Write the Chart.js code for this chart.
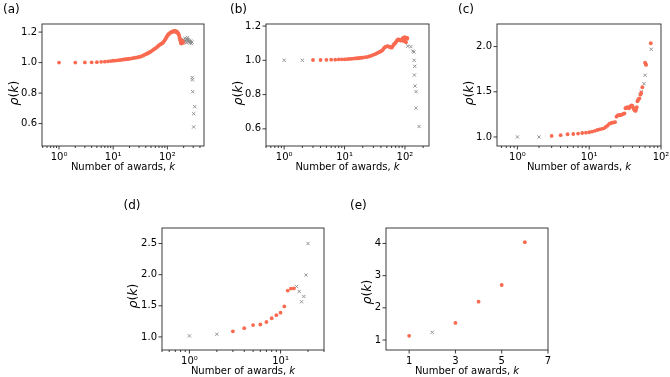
<!DOCTYPE html>
<html>
<head>
<meta charset="utf-8">
<script src="https://cdn.jsdelivr.net/npm/chart.js@4.4.1/dist/chart.umd.min.js"></script>
<style>
  html, body { margin: 0; padding: 0; background: #fff; }
  body { width: 670px; height: 377px; position: relative; overflow: hidden; }
  canvas { position: absolute; }
</style>
</head>
<body>
<canvas id="panelA"></canvas>
<canvas id="panelB"></canvas>
<canvas id="panelC"></canvas>
<canvas id="panelD"></canvas>
<canvas id="panelE"></canvas>
<script>
// ---- data ----
// (a)
const aRedK = [1, 2, 3, 4, 5, 6, 7, 8, 9, 10, 11, 12, 13, 14, 15, 16, 17, 18, 19, 20,
  22, 24, 26, 28, 30, 32, 34, 36, 38, 40, 42, 44, 46, 48, 50, 53, 56, 59, 62, 65, 68, 71, 74, 77, 80,
  83, 86, 89, 92, 95, 98, 101, 104, 107, 110, 113, 116, 119, 122, 125, 128, 131, 134, 137, 140, 143,
  146, 149, 152, 155, 158, 161, 164, 167, 170, 172, 174, 176, 178, 180, 182, 184, 186, 188, 190, 192, 195];
const aRedRho = [1.000, 1.000, 1.001, 1.002, 1.003, 1.005, 1.006, 1.008, 1.010, 1.012, 1.013, 1.015, 1.016, 1.018, 1.019, 1.021, 1.022, 1.023, 1.024, 1.025,
  1.027, 1.030, 1.032, 1.034, 1.037, 1.039, 1.043, 1.047, 1.051, 1.055, 1.058, 1.062, 1.066, 1.070, 1.074, 1.080, 1.086, 1.091, 1.097, 1.103, 1.109, 1.115, 1.120, 1.123, 1.126,
  1.130, 1.138, 1.146, 1.154, 1.162, 1.170, 1.178, 1.184, 1.188, 1.192, 1.195, 1.198, 1.200, 1.202, 1.204, 1.205, 1.203, 1.206, 1.205, 1.207, 1.203,
  1.205, 1.199, 1.202, 1.196, 1.192, 1.188, 1.180, 1.170, 1.160, 1.152, 1.145, 1.138, 1.130, 1.125, 1.133, 1.140, 1.128, 1.136, 1.142, 1.135, 1.130];
const aGreyK = [200, 205, 210, 215, 220, 225, 230, 235, 240, 245, 250, 255, 262, 270, 278, 285, 288, 290, 294, 320, 307, 306];
const aGreyRho = [1.150, 1.135, 1.160, 1.140, 1.145, 1.130, 1.155, 1.165, 1.140, 1.150, 1.135, 1.145, 1.130, 1.140, 1.125, 1.135, 0.902, 0.887, 0.809, 0.711, 0.665, 0.578];

// (b)
const bRedK = [3, 4, 5, 6, 7, 8, 9, 10, 11, 12, 13, 14, 15, 16, 17, 18, 19, 20, 22, 24, 26, 28, 30, 32, 34, 36, 38, 40,
  42, 44, 46, 48, 50, 52, 54, 56, 58, 60, 62, 64, 66, 68, 70, 72, 74, 76, 78, 80, 82, 84, 86, 88, 90, 92, 94, 96, 98,
  100, 102, 104, 106, 108, 110];
const bRedRho = [1.002, 1.002, 1.003, 1.004, 1.004, 1.005, 1.006, 1.006, 1.007, 1.008, 1.009, 1.010, 1.011, 1.012, 1.012, 1.014, 1.015, 1.016, 1.018, 1.020, 1.024, 1.028, 1.032, 1.036, 1.041, 1.045, 1.049, 1.053,
  1.058, 1.066, 1.076, 1.079, 1.082, 1.083, 1.080, 1.078, 1.076, 1.074, 1.079, 1.088, 1.095, 1.099, 1.104, 1.110, 1.116, 1.120, 1.122, 1.121, 1.118, 1.115, 1.116, 1.119, 1.124, 1.130, 1.128, 1.112, 1.135,
  1.120, 1.128, 1.105, 1.133, 1.125, 1.130];
const bGreyK = [1, 2, 111, 125, 135, 141, 142, 145, 143, 147, 153, 152, 171];
const bGreyRho = [1.000, 1.000, 1.083, 1.080, 1.054, 1.048, 1.000, 0.965, 0.914, 0.850, 0.817, 0.721, 0.614];

// (c)
const cRedK = [3, 4, 5, 6, 7, 8, 9, 10, 11, 12, 13, 14, 15, 16, 17, 18, 19, 20, 21, 22, 23, 24, 25, 26, 27, 28, 29, 30,
  31, 32, 33, 34, 35, 36, 37, 38, 39, 40, 41, 42, 43, 44, 45, 46, 47, 48, 49, 50, 52, 53, 55, 60, 61, 62, 72];
const cRedRho = [1.011, 1.020, 1.030, 1.033, 1.037, 1.044, 1.048, 1.052, 1.060, 1.068, 1.077, 1.085, 1.090, 1.096, 1.110, 1.125, 1.145, 1.152, 1.158, 1.162, 1.165, 1.225, 1.238, 1.243, 1.240, 1.245, 1.250, 1.255,
  1.262, 1.318, 1.325, 1.330, 1.322, 1.317, 1.335, 1.343, 1.350, 1.345, 1.325, 1.307, 1.295, 1.288, 1.300, 1.330, 1.395, 1.410, 1.420, 1.428, 1.470, 1.490, 1.550, 1.823, 1.810, 1.797, 2.037];
const cGreyK = [1, 2, 51, 53, 58, 60, 73];
const cGreyRho = [1.000, 1.000, 1.470, 1.500, 1.590, 1.683, 1.970];

// (d)
const dRedK = [3, 4, 5, 6, 7, 8, 9, 10, 11, 12, 13, 14];
const dRedRho = [1.09, 1.14, 1.19, 1.20, 1.24, 1.30, 1.35, 1.39, 1.49, 1.745, 1.777, 1.78];
const dGreyK = [1, 2, 15, 16, 17, 18, 19, 20];
const dGreyRho = [1.016, 1.043, 1.81, 1.73, 1.565, 1.65, 1.995, 2.50];

// (e)
const eRedK = [1, 3, 4, 5, 6];
const eRedRho = [1.13, 1.53, 2.19, 2.71, 4.04];
const eGreyK = [2];
const eGreyRho = [1.24];

// tick values and labels
const logXTicks = [1, 10, 100];
const logXTickLabels = ['10\u2070', '10\u00b9', '10\u00b2'];
const eXTicks = [1, 3, 5, 7];
const aYTicks = [0.6, 0.8, 1.0, 1.2];
const bYTicks = [0.6, 0.8, 1.0, 1.2];
const cYTicks = [1.0, 1.5, 2.0];
const dYTicks = [1.0, 1.5, 2.0, 2.5];
const eYTicks = [1, 2, 3, 4];

const xTitle = 'Number of awards, ';
const RED = '#f96a50';
const GREY = '#8a8a8a';
const FONT = '"DejaVu Sans"';

Chart.defaults.font.family = FONT;

function pts(ks, vals) {
  return ks.map((k, i) => ({ x: k, y: vals[i] }));
}

// frame, tick marks, axis titles and panel tag
const panelDeco = {
  id: 'panelDeco',
  afterDatasetsDraw(chart) {
    const p = chart.options.plugins.panelDeco;
    const { ctx, chartArea: a } = chart;
    const xs = chart.scales.x, ys = chart.scales.y;
    ctx.save();
    ctx.strokeStyle = '#262626';
    ctx.lineWidth = 0.9;
    ctx.strokeRect(a.left, a.top, a.right - a.left, a.bottom - a.top);

    ctx.beginPath();
    if (xs.type === 'logarithmic') {
      const e0 = Math.floor(Math.log10(xs.min));
      const e1 = Math.ceil(Math.log10(xs.max));
      for (let e = e0; e <= e1; e++) {
        for (let m = 1; m <= 9; m++) {
          const v = m * Math.pow(10, e);
          if (v < xs.min * 0.999 || v > xs.max * 1.001) continue;
          const px = xs.getPixelForValue(v);
          ctx.moveTo(px, a.bottom);
          ctx.lineTo(px, a.bottom + (m === 1 ? 3.5 : 2));
        }
      }
    } else {
      xs.ticks.forEach(t => {
        const px = xs.getPixelForValue(t.value);
        ctx.moveTo(px, a.bottom);
        ctx.lineTo(px, a.bottom + 3.5);
      });
    }
    ys.ticks.forEach(t => {
      const py = ys.getPixelForValue(t.value);
      ctx.moveTo(a.left, py);
      ctx.lineTo(a.left - 3.5, py);
    });
    ctx.stroke();

    ctx.fillStyle = '#000';
    ctx.textBaseline = 'alphabetic';

    // panel tag
    ctx.textAlign = 'left';
    ctx.font = '12px ' + FONT;
    ctx.fillText(p.tag, a.left + p.tagDx, a.top + p.tagDy);

    // x title with italic k
    ctx.font = '10px ' + FONT;
    const w1 = ctx.measureText(xTitle).width;
    ctx.font = 'italic 10px ' + FONT;
    const w2 = ctx.measureText('k').width;
    let x0 = (a.left + a.right) / 2 - (w1 + w2) / 2;
    const yb = a.bottom + 23.5;
    ctx.font = '10px ' + FONT;
    ctx.fillText(xTitle, x0, yb);
    ctx.font = 'italic 10px ' + FONT;
    ctx.fillText('k', x0 + w1, yb);

    // y title rho(k)
    const parts = [['\u03c1', true], ['(', false], ['k', true], [')', false]];
    const fs = p.ySize;
    let total = 0;
    parts.forEach(([s, it]) => {
      ctx.font = (it ? 'italic ' : '') + fs + 'px ' + FONT;
      total += ctx.measureText(s).width;
    });
    ctx.translate(a.left + p.yDx, a.top + p.yDy);
    ctx.rotate(-Math.PI / 2);
    let cx = -total / 2;
    parts.forEach(([s, it]) => {
      ctx.font = (it ? 'italic ' : '') + fs + 'px ' + FONT;
      ctx.fillText(s, cx, 0);
      cx += ctx.measureText(s).width;
    });
    ctx.restore();
  }
};

const PAD_L = 46, PAD_T = 34, PAD_R = 14, PAD_B = 34;

function makePanel(id, frame, cfg) {
  const canvas = document.getElementById(id);
  const [L, T, R, B] = frame;
  canvas.width = (R - L) + PAD_L + PAD_R;
  canvas.height = (B - T) + PAD_T + PAD_B;
  canvas.style.left = (L - PAD_L) + 'px';
  canvas.style.top = (T - PAD_T) + 'px';

  const tickFont = { family: FONT, size: 10 };
  const isLog = cfg.xType === 'logarithmic';

  return new Chart(canvas.getContext('2d'), {
    type: 'scatter',
    data: {
      datasets: [{
        data: pts(cfg.redK, cfg.redRho),
        pointStyle: 'circle',
        pointRadius: 1.9,
        pointBackgroundColor: RED,
        pointBorderWidth: 0,
        pointHoverRadius: 1.9
      }, {
        data: pts(cfg.greyK, cfg.greyRho),
        pointStyle: 'crossRot',
        pointRadius: 2.3,
        pointBorderColor: GREY,
        pointBorderWidth: 0.9,
        pointHoverRadius: 2.3
      }]
    },
    options: {
      responsive: false,
      animation: false,
      events: [],
      layout: { padding: { left: 0, top: PAD_T, right: PAD_R, bottom: 0 } },
      plugins: {
        legend: { display: false },
        tooltip: { enabled: false },
        panelDeco: cfg.deco
      },
      scales: {
        x: {
          type: cfg.xType,
          min: cfg.xMin,
          max: cfg.xMax,
          afterFit: s => { s.height = PAD_B; },
          afterBuildTicks: s => { s.ticks = cfg.xTicks.map(v => ({ value: v })); },
          grid: { display: false, drawTicks: false },
          border: { display: false },
          ticks: {
            autoSkip: false,
            maxRotation: 0,
            padding: 5,
            color: '#000',
            font: tickFont,
            callback: (v, i) => isLog ? logXTickLabels[logXTicks.indexOf(v)] : String(v)
          }
        },
        y: {
          type: 'linear',
          min: cfg.yMin,
          max: cfg.yMax,
          afterFit: s => { s.width = PAD_L; },
          afterBuildTicks: s => { s.ticks = cfg.yTicks.map(v => ({ value: v })); },
          grid: { display: false, drawTicks: false },
          border: { display: false },
          ticks: {
            padding: 5,
            color: '#000',
            font: tickFont,
            callback: v => v.toFixed(cfg.yDigits)
          }
        }
      }
    },
    plugins: [panelDeco]
  });
}

makePanel('panelA', [42, 24, 204, 146], {
  xType: 'logarithmic', xMin: 0.485, xMax: 475, xTicks: logXTicks,
  yMin: 0.453, yMax: 1.253, yTicks: aYTicks, yDigits: 1,
  redK: aRedK, redRho: aRedRho, greyK: aGreyK, greyRho: aGreyRho,
  deco: { tag: '(a)', tagDx: -39, tagDy: -11, yDx: -24.5, yDy: 69, ySize: 12.5 }
});

makePanel('panelB', [266, 24, 429, 146], {
  xType: 'logarithmic', xMin: 0.5, xMax: 250, xTicks: logXTicks,
  yMin: 0.50, yMax: 1.212, yTicks: bYTicks, yDigits: 1,
  redK: bRedK, redRho: bRedRho, greyK: bGreyK, greyRho: bGreyRho,
  deco: { tag: '(b)', tagDx: -36, tagDy: -11, yDx: -24.5, yDy: 69, ySize: 12.5 }
});

makePanel('panelC', [497, 24, 661, 146], {
  xType: 'logarithmic', xMin: 0.52, xMax: 100, xTicks: logXTicks,
  yMin: 0.90, yMax: 2.25, yTicks: cYTicks, yDigits: 1,
  redK: cRedK, redRho: cRedRho, greyK: cGreyK, greyRho: cGreyRho,
  deco: { tag: '(c)', tagDx: -39, tagDy: -11, yDx: -24.5, yDy: 69, ySize: 12.5 }
});

makePanel('panelD', [162, 228, 324, 350], {
  xType: 'logarithmic', xMin: 0.5, xMax: 30, xTicks: [1, 10],
  yMin: 0.79, yMax: 2.75, yTicks: dYTicks, yDigits: 1,
  redK: dRedK, redRho: dRedRho, greyK: dGreyK, greyRho: dGreyRho,
  deco: { tag: '(d)', tagDx: -38.5, tagDy: -19.5, yDx: -25, yDy: 68, ySize: 12.5 }
});

makePanel('panelE', [386, 228, 548, 350], {
  xType: 'linear', xMin: 0, xMax: 7, xTicks: eXTicks,
  yMin: 0.69, yMax: 4.48, yTicks: eYTicks, yDigits: 0,
  redK: eRedK, redRho: eRedRho, greyK: eGreyK, greyRho: eGreyRho,
  deco: { tag: '(e)', tagDx: -36, tagDy: -19.5, yDx: -15, yDy: 64, ySize: 12.5 }
});
</script>
</body>
</html>
